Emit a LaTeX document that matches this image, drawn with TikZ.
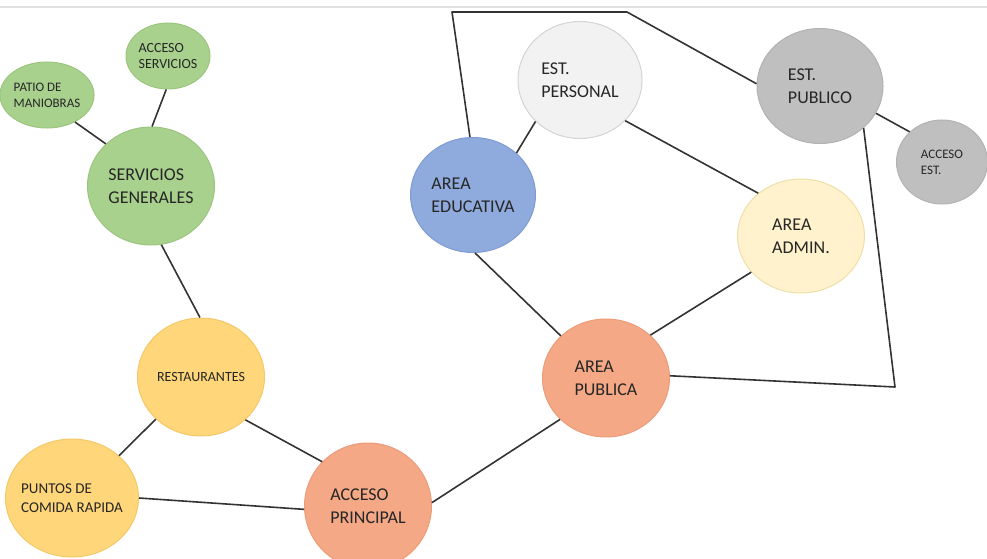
\documentclass[tikz,border=0pt]{standalone}
\usepackage{fontspec}
\setmainfont{Carlito}
\usepackage{tikz}
\usetikzlibrary{positioning,shapes.geometric}

\definecolor{verde}{HTML}{A9D18E}
\definecolor{verdeb}{HTML}{9BC57F}
\definecolor{amarillo}{HTML}{FFD679}
\definecolor{amarillob}{HTML}{F3C86A}
\definecolor{salmon}{HTML}{F4A886}
\definecolor{salmonb}{HTML}{EC9C78}
\definecolor{azul}{HTML}{8FAADC}
\definecolor{azulb}{HTML}{7F9CD2}
\definecolor{blanco}{HTML}{F2F2F2}
\definecolor{blancob}{HTML}{D4D4D4}
\definecolor{crema}{HTML}{FFF2CC}
\definecolor{cremab}{HTML}{EEDFA8}
\definecolor{gris}{HTML}{BFBFBF}
\definecolor{grisb}{HTML}{B2B2B2}

\begin{document}
\begin{tikzpicture}[x=1pt, y=1pt, on grid,
  zona/.style={ellipse, draw, line width=1pt, inner sep=0pt, align=left, text=black!85,
    minimum width=127pt, minimum height=118pt, font=\fontsize{18}{23}\selectfont},
  zona chica/.style={zona, minimum width=86pt, minimum height=66pt, font=\fontsize{13}{16}\selectfont},
  enlace/.style={draw=black!80, line width=1.6pt}]
\useasboundingbox (0,0) rectangle (987,-559);
\draw[black!12, line width=1.2pt] (0,-7) -- (987,-7);

%% Nodes definition
\node[zona, fill=verde, draw=verdeb] (serv) at (151,-186) {SERVICIOS\\GENERALES};
\node[zona chica, fill=verde, draw=verdeb, above left = 91pt and 104pt of serv] (patio) {PATIO DE\\MANIOBRAS};
\node[zona chica, fill=verde, draw=verdeb, minimum width=84pt, font=\fontsize{14}{16}\selectfont, above right = 130pt and 17pt of serv] (acc_serv) {ACCESO\\SERVICIOS};
\node[zona, fill=amarillo, draw=amarillob, font=\fontsize{14}{16}\selectfont, below right = 191pt and 50pt of serv] (rest) {RESTAURANTES};
\node[zona, fill=amarillo, draw=amarillob, minimum width=133pt, inner xsep=-12pt, font=\fontsize{15}{19}\selectfont, below left = 121pt and 129pt of rest] (puntos) {PUNTOS DE\\COMIDA RAPIDA};
\node[zona, fill=salmon, draw=salmonb, minimum height=126pt, below right = 129pt and 167pt of rest] (acc_pri) {ACCESO\\PRINCIPAL};
\node[zona, fill=salmon, draw=salmonb, minimum height=118pt, above right = 128pt and 238pt of acc_pri] (area_pub) {AREA\\PUBLICA};
\node[zona, fill=azul, draw=azulb, minimum width=125pt, minimum height=115pt, above left = 183pt and 133pt of area_pub] (area_edu) {AREA\\EDUCATIVA};
\node[zona, fill=blanco, draw=blancob, minimum width=124pt, minimum height=117pt, above right = 115pt and 107pt of area_edu] (est_per) {EST.\\PERSONAL};
\node[zona, fill=crema, draw=cremab, minimum height=114pt, above right = 142pt and 195pt of area_pub] (area_adm) {AREA\\ADMIN.};
\node[zona, fill=gris, draw=grisb, minimum width=126pt, minimum height=115pt, above right = 150pt and 19pt of area_adm] (est_pub) {EST.\\PUBLICO};
\node[zona chica, fill=gris, draw=grisb, minimum width=91pt, minimum height=84pt, font=\fontsize{13}{16}\selectfont, below right = 76pt and 122pt of est_pub] (acc_est) {ACCESO\\EST.};
\coordinate[above left = 183pt and 21pt of area_edu] (lim_a);
\coordinate[right = 175pt of lim_a] (lim_b);
\coordinate[below right = 301pt and 75pt of est_pub] (lim_c);

%% Edges definition
\path[every edge/.append style={enlace}]
    (patio.-44) edge (serv.137)
    (acc_serv.-93) edge (serv.89)
    (serv.-80) edge (rest.91)
    (rest.223) edge (puntos.42)
    (rest.-44) edge (acc_pri.136)
    (puntos.0) edge (acc_pri.183)
    (acc_pri.3) edge (area_pub.222)
    (area_pub.137) edge (area_edu.-88)
    (area_pub.44) edge (area_adm.216)
    (est_per.223) edge (area_edu.44)
    (est_per.-42) edge (area_adm.135)
    (est_pub.-26) edge (acc_est.137)
    ;
\draw[enlace, line join=round] (area_edu.93) -- (lim_a) -- (lim_b) -- (est_pub.178);
\draw[enlace, line join=round] (est_pub.-44) -- (lim_c) -- (area_pub.2);
\end{tikzpicture}
\end{document}
